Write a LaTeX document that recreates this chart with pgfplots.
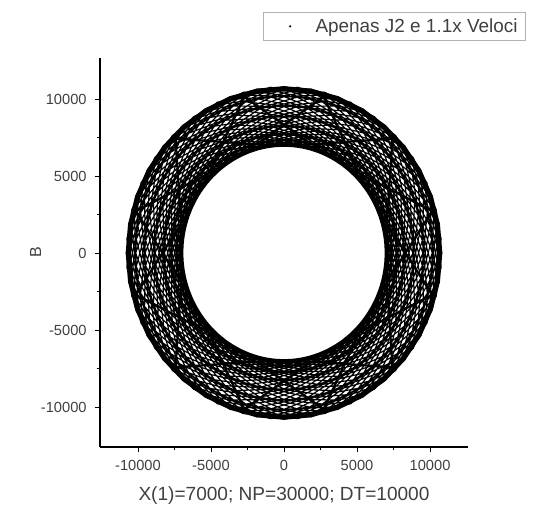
\documentclass[border=0pt]{standalone}
\usepackage{pgfplots}
\pgfplotsset{compat=1.18}
\usepackage{fontspec}
\setmainfont{Liberation Sans}
\begin{document}
\begin{tikzpicture}
\path[use as bounding box] (0,0) rectangle (400.5pt,378pt);
\begin{axis}[
  at={(75pt,42.75pt)}, anchor=south west,
  scale only axis, width=276pt, height=291.75pt,
  xmin=-12600, xmax=12600, ymin=-12600, ymax=12660,
  axis x line=bottom, axis y line=left,
  axis line style={-, line width=0.8pt},
  tick align=outside, tick style={black, line width=0.6pt},
  major tick length=4pt, minor tick length=2.5pt,
  xtick={-10000,-5000,0,5000,10000}, ytick={-10000,-5000,0,5000,10000},
  minor tick num=1,
  scaled ticks=false,
  /pgf/number format/assume math mode=true,
  /pgf/number format/set thousands separator={},
  tick label style={font=\fontsize{11pt}{12pt}\selectfont, text=black!75},
  xticklabel style={yshift=-2.5pt},
  yticklabel style={xshift=-2.5pt},
  xlabel={X(1)=7000; NP=30000; DT=10000}, ylabel={B},
  xlabel style={font=\fontsize{14.3pt}{16pt}\selectfont, text=black!75, yshift=-5pt},
  ylabel style={font=\fontsize{12pt}{14pt}\selectfont, text=black!75, yshift=-7pt},
  clip=false,
  legend style={at={(1.1576,1.118)}, anchor=north east, draw=black!30, line width=0.6pt,
    font=\fontsize{14.2pt}{15pt}\selectfont, text=black!75, inner xsep=4pt, inner ysep=2.5pt},
  legend image code/.code={\path[draw=none,fill=none] (0,0) rectangle (33pt,0); \fill[black,draw=none] (16pt,0) circle (0.9pt);},
]
\addplot[black, line width=0.85pt, data cs=polar, line join=round] coordinates {
(0,7000)(20,7075)(40,7300)(60,7675)(80,8190)(100,8821)(120,9509)(140,10154)(160,10625)(180,10800)(200,10625)(220,10154)(240,9509)(260,8821)(280,8190)(300,7675)(320,7300)(340,7075)(360,7000)
(10,7000)(30,7075)(50,7300)(70,7675)(90,8190)(110,8821)(130,9509)(150,10154)(170,10625)(190,10800)(210,10625)(230,10154)(250,9509)(270,8821)(290,8190)(310,7675)(330,7300)(350,7075)(370,7000)
(20,7000)(40,7075)(60,7300)(80,7675)(100,8190)(120,8821)(140,9509)(160,10154)(180,10625)(200,10800)(220,10625)(240,10154)(260,9509)(280,8821)(300,8190)(320,7675)(340,7300)(360,7075)(380,7000)
(30,7000)(50,7075)(70,7300)(90,7675)(110,8190)(130,8821)(150,9509)(170,10154)(190,10625)(210,10800)(230,10625)(250,10154)(270,9509)(290,8821)(310,8190)(330,7675)(350,7300)(370,7075)(390,7000)
(40,7000)(60,7075)(80,7300)(100,7675)(120,8190)(140,8821)(160,9509)(180,10154)(200,10625)(220,10800)(240,10625)(260,10154)(280,9509)(300,8821)(320,8190)(340,7675)(360,7300)(380,7075)(400,7000)
(50,7000)(70,7075)(90,7300)(110,7675)(130,8190)(150,8821)(170,9509)(190,10154)(210,10625)(230,10800)(250,10625)(270,10154)(290,9509)(310,8821)(330,8190)(350,7675)(370,7300)(390,7075)(410,7000)
(60,7000)(80,7075)(100,7300)(120,7675)(140,8190)(160,8821)(180,9509)(200,10154)(220,10625)(240,10800)(260,10625)(280,10154)(300,9509)(320,8821)(340,8190)(360,7675)(380,7300)(400,7075)(420,7000)
(70,7000)(90,7075)(110,7300)(130,7675)(150,8190)(170,8821)(190,9509)(210,10154)(230,10625)(250,10800)(270,10625)(290,10154)(310,9509)(330,8821)(350,8190)(370,7675)(390,7300)(410,7075)(430,7000)
(80,7000)(100,7075)(120,7300)(140,7675)(160,8190)(180,8821)(200,9509)(220,10154)(240,10625)(260,10800)(280,10625)(300,10154)(320,9509)(340,8821)(360,8190)(380,7675)(400,7300)(420,7075)(440,7000)
(90,7000)(110,7075)(130,7300)(150,7675)(170,8190)(190,8821)(210,9509)(230,10154)(250,10625)(270,10800)(290,10625)(310,10154)(330,9509)(350,8821)(370,8190)(390,7675)(410,7300)(430,7075)(450,7000)
(100,7000)(120,7075)(140,7300)(160,7675)(180,8190)(200,8821)(220,9509)(240,10154)(260,10625)(280,10800)(300,10625)(320,10154)(340,9509)(360,8821)(380,8190)(400,7675)(420,7300)(440,7075)(460,7000)
(110,7000)(130,7075)(150,7300)(170,7675)(190,8190)(210,8821)(230,9509)(250,10154)(270,10625)(290,10800)(310,10625)(330,10154)(350,9509)(370,8821)(390,8190)(410,7675)(430,7300)(450,7075)(470,7000)
(120,7000)(140,7075)(160,7300)(180,7675)(200,8190)(220,8821)(240,9509)(260,10154)(280,10625)(300,10800)(320,10625)(340,10154)(360,9509)(380,8821)(400,8190)(420,7675)(440,7300)(460,7075)(480,7000)
(130,7000)(150,7075)(170,7300)(190,7675)(210,8190)(230,8821)(250,9509)(270,10154)(290,10625)(310,10800)(330,10625)(350,10154)(370,9509)(390,8821)(410,8190)(430,7675)(450,7300)(470,7075)(490,7000)
(140,7000)(160,7075)(180,7300)(200,7675)(220,8190)(240,8821)(260,9509)(280,10154)(300,10625)(320,10800)(340,10625)(360,10154)(380,9509)(400,8821)(420,8190)(440,7675)(460,7300)(480,7075)(500,7000)
(150,7000)(170,7075)(190,7300)(210,7675)(230,8190)(250,8821)(270,9509)(290,10154)(310,10625)(330,10800)(350,10625)(370,10154)(390,9509)(410,8821)(430,8190)(450,7675)(470,7300)(490,7075)(510,7000)
(160,7000)(180,7075)(200,7300)(220,7675)(240,8190)(260,8821)(280,9509)(300,10154)(320,10625)(340,10800)(360,10625)(380,10154)(400,9509)(420,8821)(440,8190)(460,7675)(480,7300)(500,7075)(520,7000)
(170,7000)(190,7075)(210,7300)(230,7675)(250,8190)(270,8821)(290,9509)(310,10154)(330,10625)(350,10800)(370,10625)(390,10154)(410,9509)(430,8821)(450,8190)(470,7675)(490,7300)(510,7075)(530,7000)
(180,7000)(200,7075)(220,7300)(240,7675)(260,8190)(280,8821)(300,9509)(320,10154)(340,10625)(360,10800)(380,10625)(400,10154)(420,9509)(440,8821)(460,8190)(480,7675)(500,7300)(520,7075)(540,7000)
(190,7000)(210,7075)(230,7300)(250,7675)(270,8190)(290,8821)(310,9509)(330,10154)(350,10625)(370,10800)(390,10625)(410,10154)(430,9509)(450,8821)(470,8190)(490,7675)(510,7300)(530,7075)(550,7000)
(200,7000)(220,7075)(240,7300)(260,7675)(280,8190)(300,8821)(320,9509)(340,10154)(360,10625)(380,10800)(400,10625)(420,10154)(440,9509)(460,8821)(480,8190)(500,7675)(520,7300)(540,7075)(560,7000)
(210,7000)(230,7075)(250,7300)(270,7675)(290,8190)(310,8821)(330,9509)(350,10154)(370,10625)(390,10800)(410,10625)(430,10154)(450,9509)(470,8821)(490,8190)(510,7675)(530,7300)(550,7075)(570,7000)
(220,7000)(240,7075)(260,7300)(280,7675)(300,8190)(320,8821)(340,9509)(360,10154)(380,10625)(400,10800)(420,10625)(440,10154)(460,9509)(480,8821)(500,8190)(520,7675)(540,7300)(560,7075)(580,7000)
(230,7000)(250,7075)(270,7300)(290,7675)(310,8190)(330,8821)(350,9509)(370,10154)(390,10625)(410,10800)(430,10625)(450,10154)(470,9509)(490,8821)(510,8190)(530,7675)(550,7300)(570,7075)(590,7000)
(240,7000)(260,7075)(280,7300)(300,7675)(320,8190)(340,8821)(360,9509)(380,10154)(400,10625)(420,10800)(440,10625)(460,10154)(480,9509)(500,8821)(520,8190)(540,7675)(560,7300)(580,7075)(600,7000)
(250,7000)(270,7075)(290,7300)(310,7675)(330,8190)(350,8821)(370,9509)(390,10154)(410,10625)(430,10800)(450,10625)(470,10154)(490,9509)(510,8821)(530,8190)(550,7675)(570,7300)(590,7075)(610,7000)
(260,7000)(280,7075)(300,7300)(320,7675)(340,8190)(360,8821)(380,9509)(400,10154)(420,10625)(440,10800)(460,10625)(480,10154)(500,9509)(520,8821)(540,8190)(560,7675)(580,7300)(600,7075)(620,7000)
(270,7000)(290,7075)(310,7300)(330,7675)(350,8190)(370,8821)(390,9509)(410,10154)(430,10625)(450,10800)(470,10625)(490,10154)(510,9509)(530,8821)(550,8190)(570,7675)(590,7300)(610,7075)(630,7000)
(280,7000)(300,7075)(320,7300)(340,7675)(360,8190)(380,8821)(400,9509)(420,10154)(440,10625)(460,10800)(480,10625)(500,10154)(520,9509)(540,8821)(560,8190)(580,7675)(600,7300)(620,7075)(640,7000)
(290,7000)(310,7075)(330,7300)(350,7675)(370,8190)(390,8821)(410,9509)(430,10154)(450,10625)(470,10800)(490,10625)(510,10154)(530,9509)(550,8821)(570,8190)(590,7675)(610,7300)(630,7075)(650,7000)
(300,7000)(320,7075)(340,7300)(360,7675)(380,8190)(400,8821)(420,9509)(440,10154)(460,10625)(480,10800)(500,10625)(520,10154)(540,9509)(560,8821)(580,8190)(600,7675)(620,7300)(640,7075)(660,7000)
(310,7000)(330,7075)(350,7300)(370,7675)(390,8190)(410,8821)(430,9509)(450,10154)(470,10625)(490,10800)(510,10625)(530,10154)(550,9509)(570,8821)(590,8190)(610,7675)(630,7300)(650,7075)(670,7000)
(320,7000)(340,7075)(360,7300)(380,7675)(400,8190)(420,8821)(440,9509)(460,10154)(480,10625)(500,10800)(520,10625)(540,10154)(560,9509)(580,8821)(600,8190)(620,7675)(640,7300)(660,7075)(680,7000)
(330,7000)(350,7075)(370,7300)(390,7675)(410,8190)(430,8821)(450,9509)(470,10154)(490,10625)(510,10800)(530,10625)(550,10154)(570,9509)(590,8821)(610,8190)(630,7675)(650,7300)(670,7075)(690,7000)
(340,7000)(360,7075)(380,7300)(400,7675)(420,8190)(440,8821)(460,9509)(480,10154)(500,10625)(520,10800)(540,10625)(560,10154)(580,9509)(600,8821)(620,8190)(640,7675)(660,7300)(680,7075)(700,7000)
(350,7000)(370,7075)(390,7300)(410,7675)(430,8190)(450,8821)(470,9509)(490,10154)(510,10625)(530,10800)(550,10625)(570,10154)(590,9509)(610,8821)(630,8190)(650,7675)(670,7300)(690,7075)(710,7000)
(5,7000)(25,7075)(45,7300)(65,7675)(85,8190)(105,8821)(125,9509)(145,10154)(165,10625)(185,10800)(205,10625)(225,10154)(245,9509)(265,8821)(285,8190)(305,7675)(325,7300)(345,7075)(365,7000)
(15,7000)(35,7075)(55,7300)(75,7675)(95,8190)(115,8821)(135,9509)(155,10154)(175,10625)(195,10800)(215,10625)(235,10154)(255,9509)(275,8821)(295,8190)(315,7675)(335,7300)(355,7075)(375,7000)
(25,7000)(45,7075)(65,7300)(85,7675)(105,8190)(125,8821)(145,9509)(165,10154)(185,10625)(205,10800)(225,10625)(245,10154)(265,9509)(285,8821)(305,8190)(325,7675)(345,7300)(365,7075)(385,7000)
(35,7000)(55,7075)(75,7300)(95,7675)(115,8190)(135,8821)(155,9509)(175,10154)(195,10625)(215,10800)(235,10625)(255,10154)(275,9509)(295,8821)(315,8190)(335,7675)(355,7300)(375,7075)(395,7000)
(45,7000)(65,7075)(85,7300)(105,7675)(125,8190)(145,8821)(165,9509)(185,10154)(205,10625)(225,10800)(245,10625)(265,10154)(285,9509)(305,8821)(325,8190)(345,7675)(365,7300)(385,7075)(405,7000)
(55,7000)(75,7075)(95,7300)(115,7675)(135,8190)(155,8821)(175,9509)(195,10154)(215,10625)(235,10800)(255,10625)(275,10154)(295,9509)(315,8821)(335,8190)(355,7675)(375,7300)(395,7075)(415,7000)
(65,7000)(85,7075)(105,7300)(125,7675)(145,8190)(165,8821)(185,9509)(205,10154)(225,10625)(245,10800)(265,10625)(285,10154)(305,9509)(325,8821)(345,8190)(365,7675)(385,7300)(405,7075)(425,7000)
(75,7000)(95,7075)(115,7300)(135,7675)(155,8190)(175,8821)(195,9509)(215,10154)(235,10625)(255,10800)(275,10625)(295,10154)(315,9509)(335,8821)(355,8190)(375,7675)(395,7300)(415,7075)(435,7000)
(85,7000)(105,7075)(125,7300)(145,7675)(165,8190)(185,8821)(205,9509)(225,10154)(245,10625)(265,10800)(285,10625)(305,10154)(325,9509)(345,8821)(365,8190)(385,7675)(405,7300)(425,7075)(445,7000)
(95,7000)(115,7075)(135,7300)(155,7675)(175,8190)(195,8821)(215,9509)(235,10154)(255,10625)(275,10800)(295,10625)(315,10154)(335,9509)(355,8821)(375,8190)(395,7675)(415,7300)(435,7075)(455,7000)
(105,7000)(125,7075)(145,7300)(165,7675)(185,8190)(205,8821)(225,9509)(245,10154)(265,10625)(285,10800)(305,10625)(325,10154)(345,9509)(365,8821)(385,8190)(405,7675)(425,7300)(445,7075)(465,7000)
(115,7000)(135,7075)(155,7300)(175,7675)(195,8190)(215,8821)(235,9509)(255,10154)(275,10625)(295,10800)(315,10625)(335,10154)(355,9509)(375,8821)(395,8190)(415,7675)(435,7300)(455,7075)(475,7000)
(125,7000)(145,7075)(165,7300)(185,7675)(205,8190)(225,8821)(245,9509)(265,10154)(285,10625)(305,10800)(325,10625)(345,10154)(365,9509)(385,8821)(405,8190)(425,7675)(445,7300)(465,7075)(485,7000)
(135,7000)(155,7075)(175,7300)(195,7675)(215,8190)(235,8821)(255,9509)(275,10154)(295,10625)(315,10800)(335,10625)(355,10154)(375,9509)(395,8821)(415,8190)(435,7675)(455,7300)(475,7075)(495,7000)
(145,7000)(165,7075)(185,7300)(205,7675)(225,8190)(245,8821)(265,9509)(285,10154)(305,10625)(325,10800)(345,10625)(365,10154)(385,9509)(405,8821)(425,8190)(445,7675)(465,7300)(485,7075)(505,7000)
(155,7000)(175,7075)(195,7300)(215,7675)(235,8190)(255,8821)(275,9509)(295,10154)(315,10625)(335,10800)(355,10625)(375,10154)(395,9509)(415,8821)(435,8190)(455,7675)(475,7300)(495,7075)(515,7000)
(165,7000)(185,7075)(205,7300)(225,7675)(245,8190)(265,8821)(285,9509)(305,10154)(325,10625)(345,10800)(365,10625)(385,10154)(405,9509)(425,8821)(445,8190)(465,7675)(485,7300)(505,7075)(525,7000)
(175,7000)(195,7075)(215,7300)(235,7675)(255,8190)(275,8821)(295,9509)(315,10154)(335,10625)(355,10800)(375,10625)(395,10154)(415,9509)(435,8821)(455,8190)(475,7675)(495,7300)(515,7075)(535,7000)
(185,7000)(205,7075)(225,7300)(245,7675)(265,8190)(285,8821)(305,9509)(325,10154)(345,10625)(365,10800)(385,10625)(405,10154)(425,9509)(445,8821)(465,8190)(485,7675)(505,7300)(525,7075)(545,7000)
(195,7000)(215,7075)(235,7300)(255,7675)(275,8190)(295,8821)(315,9509)(335,10154)(355,10625)(375,10800)(395,10625)(415,10154)(435,9509)(455,8821)(475,8190)(495,7675)(515,7300)(535,7075)(555,7000)
(205,7000)(225,7075)(245,7300)(265,7675)(285,8190)(305,8821)(325,9509)(345,10154)(365,10625)(385,10800)(405,10625)(425,10154)(445,9509)(465,8821)(485,8190)(505,7675)(525,7300)(545,7075)(565,7000)
(215,7000)(235,7075)(255,7300)(275,7675)(295,8190)(315,8821)(335,9509)(355,10154)(375,10625)(395,10800)(415,10625)(435,10154)(455,9509)(475,8821)(495,8190)(515,7675)(535,7300)(555,7075)(575,7000)
(225,7000)(245,7075)(265,7300)(285,7675)(305,8190)(325,8821)(345,9509)(365,10154)(385,10625)(405,10800)(425,10625)(445,10154)(465,9509)(485,8821)(505,8190)(525,7675)(545,7300)(565,7075)(585,7000)
(235,7000)(255,7075)(275,7300)(295,7675)(315,8190)(335,8821)(355,9509)(375,10154)(395,10625)(415,10800)(435,10625)(455,10154)(475,9509)(495,8821)(515,8190)(535,7675)(555,7300)(575,7075)(595,7000)
(245,7000)(265,7075)(285,7300)(305,7675)(325,8190)(345,8821)(365,9509)(385,10154)(405,10625)(425,10800)(445,10625)(465,10154)(485,9509)(505,8821)(525,8190)(545,7675)(565,7300)(585,7075)(605,7000)
(255,7000)(275,7075)(295,7300)(315,7675)(335,8190)(355,8821)(375,9509)(395,10154)(415,10625)(435,10800)(455,10625)(475,10154)(495,9509)(515,8821)(535,8190)(555,7675)(575,7300)(595,7075)(615,7000)
(265,7000)(285,7075)(305,7300)(325,7675)(345,8190)(365,8821)(385,9509)(405,10154)(425,10625)(445,10800)(465,10625)(485,10154)(505,9509)(525,8821)(545,8190)(565,7675)(585,7300)(605,7075)(625,7000)
(275,7000)(295,7075)(315,7300)(335,7675)(355,8190)(375,8821)(395,9509)(415,10154)(435,10625)(455,10800)(475,10625)(495,10154)(515,9509)(535,8821)(555,8190)(575,7675)(595,7300)(615,7075)(635,7000)
(285,7000)(305,7075)(325,7300)(345,7675)(365,8190)(385,8821)(405,9509)(425,10154)(445,10625)(465,10800)(485,10625)(505,10154)(525,9509)(545,8821)(565,8190)(585,7675)(605,7300)(625,7075)(645,7000)
(295,7000)(315,7075)(335,7300)(355,7675)(375,8190)(395,8821)(415,9509)(435,10154)(455,10625)(475,10800)(495,10625)(515,10154)(535,9509)(555,8821)(575,8190)(595,7675)(615,7300)(635,7075)(655,7000)
(305,7000)(325,7075)(345,7300)(365,7675)(385,8190)(405,8821)(425,9509)(445,10154)(465,10625)(485,10800)(505,10625)(525,10154)(545,9509)(565,8821)(585,8190)(605,7675)(625,7300)(645,7075)(665,7000)
(315,7000)(335,7075)(355,7300)(375,7675)(395,8190)(415,8821)(435,9509)(455,10154)(475,10625)(495,10800)(515,10625)(535,10154)(555,9509)(575,8821)(595,8190)(615,7675)(635,7300)(655,7075)(675,7000)
(325,7000)(345,7075)(365,7300)(385,7675)(405,8190)(425,8821)(445,9509)(465,10154)(485,10625)(505,10800)(525,10625)(545,10154)(565,9509)(585,8821)(605,8190)(625,7675)(645,7300)(665,7075)(685,7000)
(335,7000)(355,7075)(375,7300)(395,7675)(415,8190)(435,8821)(455,9509)(475,10154)(495,10625)(515,10800)(535,10625)(555,10154)(575,9509)(595,8821)(615,8190)(635,7675)(655,7300)(675,7075)(695,7000)
(345,7000)(365,7075)(385,7300)(405,7675)(425,8190)(445,8821)(465,9509)(485,10154)(505,10625)(525,10800)(545,10625)(565,10154)(585,9509)(605,8821)(625,8190)(645,7675)(665,7300)(685,7075)(705,7000)
(355,7000)(375,7075)(395,7300)(415,7675)(435,8190)(455,8821)(475,9509)(495,10154)(515,10625)(535,10800)(555,10625)(575,10154)(595,9509)(615,8821)(635,8190)(655,7675)(675,7300)(695,7075)(715,7000)
};
\addlegendentry{Apenas J2 e 1.1x Veloci}
\addplot[black, line width=1.7pt, data cs=polar, forget plot] coordinates {
(15,7300)(45,10500)(75,7300)(105,10500)(135,7300)(165,10500)(195,7300)(225,10500)(255,7300)(285,10500)(315,7300)(345,10500)(375,7300)
};
\addplot[black, line width=1.7pt, data cs=polar, forget plot] coordinates {
(45,7300)(75,10500)(105,7300)(135,10500)(165,7300)(195,10500)(225,7300)(255,10500)(285,7300)(315,10500)(345,7300)(375,10500)(405,7300)
};
\addplot[black, line width=4pt, data cs=polar, forget plot] coordinates {
(0,10660)(10,10660)(20,10660)(30,10660)(40,10660)(50,10660)(60,10660)(70,10660)(80,10660)(90,10660)(100,10660)(110,10660)(120,10660)(130,10660)(140,10660)(150,10660)(160,10660)(170,10660)(180,10660)(190,10660)(200,10660)(210,10660)(220,10660)(230,10660)(240,10660)(250,10660)(260,10660)(270,10660)(280,10660)(290,10660)(300,10660)(310,10660)(320,10660)(330,10660)(340,10660)(350,10660)(360,10660)(370,10660)
};
\addplot[black, line width=3pt, data cs=polar, forget plot] coordinates {
(0,7100)(10,7100)(20,7100)(30,7100)(40,7100)(50,7100)(60,7100)(70,7100)(80,7100)(90,7100)(100,7100)(110,7100)(120,7100)(130,7100)(140,7100)(150,7100)(160,7100)(170,7100)(180,7100)(190,7100)(200,7100)(210,7100)(220,7100)(230,7100)(240,7100)(250,7100)(260,7100)(270,7100)(280,7100)(290,7100)(300,7100)(310,7100)(320,7100)(330,7100)(340,7100)(350,7100)(360,7100)(370,7100)
};
\end{axis}
\end{tikzpicture}
\end{document}
